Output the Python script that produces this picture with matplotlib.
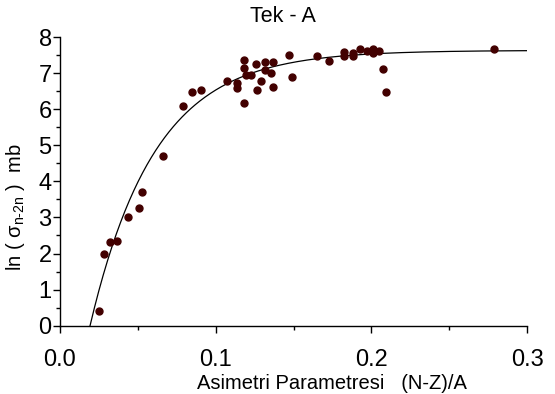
import numpy as np
import matplotlib
matplotlib.use("Agg")
import matplotlib.pyplot as plt
from matplotlib.ticker import MultipleLocator

plt.rcParams['font.family'] = ['Liberation Sans', 'DejaVu Sans']
plt.rcParams['mathtext.fontset'] = 'custom'
plt.rcParams['mathtext.rm'] = 'Liberation Sans'
plt.rcParams['mathtext.it'] = 'Liberation Sans:italic'

# Data
asym = [0.025, 0.0285, 0.032, 0.0368, 0.0435, 0.0508, 0.0527, 0.0664, 0.0792,
        0.0846, 0.0904, 0.1075, 0.1135, 0.1135, 0.118, 0.118, 0.118, 0.1195,
        0.123, 0.126, 0.1268, 0.129, 0.132, 0.132, 0.1353, 0.137, 0.137,
        0.147, 0.149, 0.1653, 0.1726, 0.1826, 0.1826, 0.1882, 0.1882, 0.1929,
        0.197, 0.2012, 0.2012, 0.2051, 0.2072, 0.2092, 0.279]
ln_sigma = [0.42, 1.98, 2.33, 2.36, 3.02, 3.26, 3.70, 4.70, 6.08,
            6.47, 6.53, 6.78, 6.72, 6.58, 7.35, 7.14, 6.18, 6.94,
            6.94, 7.26, 6.54, 6.78, 7.30, 7.09, 7.01, 7.30, 6.62,
            7.50, 6.89, 7.47, 7.34, 7.59, 7.48, 7.57, 7.46, 7.66,
            7.62, 7.66, 7.55, 7.62, 7.10, 6.47, 7.66]

# Fitted saturation curve parameters (y = A*(1-exp(-k*(x-x0))))
fit_A = 7.63
fit_k = 24.0
fit_x0 = 0.0193
fit_xmax = 0.30

title = "Tek - A"
xlabel = "Asimetri Parametresi   (N-Z)/A"
ylabel = r"ln ( σ$_{\mathregular{n\text{-}2n}}$ )  mb"

fig = plt.figure(figsize=(5.55, 3.94), dpi=100)
ax = fig.add_axes([60/555, 1-325.7/394, 467/555, 288.7/394])

xc = np.linspace(fit_x0, fit_xmax, 400)
yc = fit_A * (1 - np.exp(-fit_k * (xc - fit_x0)))
ax.plot(xc, yc, color='black', lw=0.9, zorder=2)
ax.plot(asym, ln_sigma, linestyle='none', marker='o', ms=5.0,
        mfc='#420000', mec='#420000', zorder=3)

ax.set_xlim(0, 0.3)
ax.set_ylim(0, 8)
ax.xaxis.set_major_locator(MultipleLocator(0.1))
ax.xaxis.set_minor_locator(MultipleLocator(0.05))
ax.yaxis.set_major_locator(MultipleLocator(1))
ax.yaxis.set_minor_locator(MultipleLocator(0.5))
ax.xaxis.set_major_formatter(plt.FuncFormatter(lambda v, p: f"{v:.1f}"))
ax.yaxis.set_major_formatter(plt.FuncFormatter(lambda v, p: f"{v:.0f}"))

for s in ['top', 'right']:
    ax.spines[s].set_visible(False)
for s in ['left', 'bottom']:
    ax.spines[s].set_linewidth(1.0)
    ax.spines[s].set_color('black')

ax.tick_params(axis='both', which='major', direction='out', length=5, width=1,
               labelsize=17)
ax.tick_params(axis='both', which='minor', direction='out', length=3, width=1)
ax.tick_params(axis='y', which='major', pad=1)
ax.tick_params(axis='x', which='major', pad=12)

ax.set_title(title, fontsize=15.5, x=0.4775, pad=11)
ax.set_xlabel(xlabel, fontsize=14.5, x=0.582, labelpad=2)
ax.set_ylabel(ylabel, fontsize=14.5, y=0.41, labelpad=8)

fig.savefig("out.png", dpi=100)
